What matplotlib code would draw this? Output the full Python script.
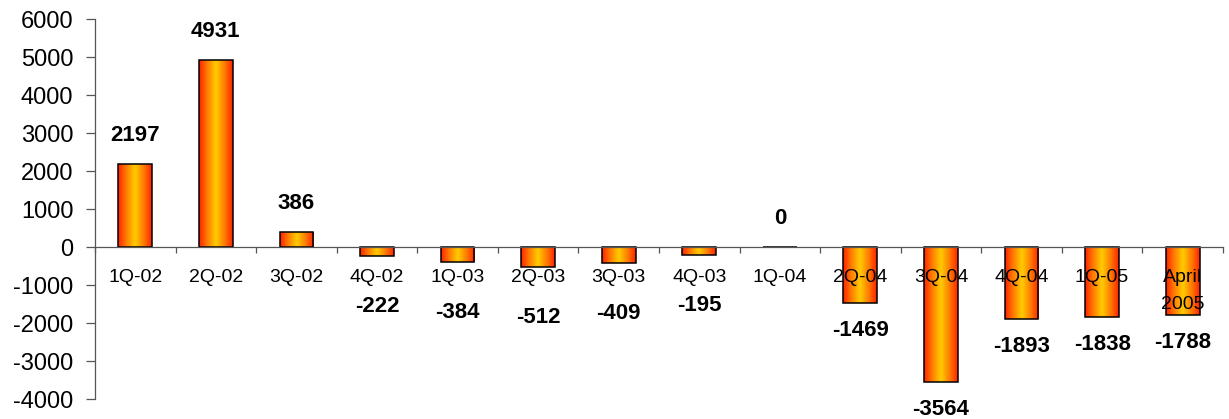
import numpy as np
import matplotlib
matplotlib.use("Agg")
import matplotlib.pyplot as plt
from matplotlib.colors import LinearSegmentedColormap
from matplotlib import transforms

plt.rcParams['font.family'] = ['Liberation Sans', 'DejaVu Sans']

categories = ["1Q-02", "2Q-02", "3Q-02", "4Q-02", "1Q-03", "2Q-03", "3Q-03",
              "4Q-03", "1Q-04", "2Q-04", "3Q-04", "4Q-04", "1Q-05", "April\n2005"]
values = [2197, 4931, 386, -222, -384, -512, -409, -195, 0, -1469, -3564,
          -1893, -1838, -1788]
y_ticks = list(range(-4000, 6001, 1000))

DPI = 100
fig = plt.figure(figsize=(12.29, 4.19), dpi=DPI)
ax = fig.add_axes([0.0773, 0.0477, 0.9178, 0.9063])
ax.set_axisbelow(False)

x = np.arange(len(categories))
bars = ax.bar(x, values, width=0.42, facecolor='none', edgecolor='black',
              linewidth=1.1, zorder=1.2)

# horizontal red-yellow-red shading inside each bar
cmap = LinearSegmentedColormap.from_list(
    "barshade", [(0.0, "#ff2200"), (0.22, "#ff7400"), (0.5, "#ffcc00"),
                 (0.78, "#ff7400"), (1.0, "#ff2200")])
grad = np.linspace(0, 1, 256).reshape(1, -1)
for b in bars:
    x0, y0 = b.get_x(), b.get_y()
    w, h = b.get_width(), b.get_height()
    if h == 0:
        continue
    im = ax.imshow(grad, cmap=cmap, aspect='auto', interpolation='bilinear',
                   extent=(x0, x0 + w, min(y0, y0 + h), max(y0, y0 + h)),
                   zorder=1.1)
    im.set_clip_path(b)

ax.set_xlim(-0.5, len(categories) - 0.5)
ax.set_ylim(-4000, 6000)
ax.set_yticks(y_ticks)
ax.set_yticklabels([str(v) for v in y_ticks])

for s in ['top', 'right']:
    ax.spines[s].set_visible(False)
ax.spines['bottom'].set_position(('data', 0))
for s in ['left', 'bottom']:
    ax.spines[s].set_color('#555555')
    ax.spines[s].set_linewidth(0.9)
    ax.spines[s].set_zorder(4)

ax.tick_params(axis='y', direction='out', length=6.5, width=0.9,
               color='#555555', labelsize=17, pad=9)
ax.set_xticks(x)
ax.set_xticklabels(categories, fontsize=14)
ax.tick_params(axis='x', which='major', length=0, pad=16)
ax.set_xticks(np.arange(-0.5, len(categories), 1.0), minor=True)
ax.tick_params(axis='x', which='minor', direction='out', length=4,
               width=0.9, color='#555555')
for lbl in ax.get_xticklabels():
    lbl.set_linespacing(1.75)

# value labels above positive bars and below negative bars
for xi, v in zip(x, values):
    if v >= 0:
        off = transforms.offset_copy(ax.transData, fig=fig, x=0, y=18,
                                     units='dots')
        ax.text(xi, v, str(v), transform=off, ha='center', va='bottom',
                fontsize=16, fontweight='bold', zorder=5)
    else:
        gap = 40 if v > -1000 else 17
        off = transforms.offset_copy(ax.transData, fig=fig, x=0, y=-gap,
                                     units='dots')
        ax.text(xi, v, str(v), transform=off, ha='center', va='top',
                fontsize=16, fontweight='bold', zorder=5)

fig.savefig("out.png", dpi=DPI)
